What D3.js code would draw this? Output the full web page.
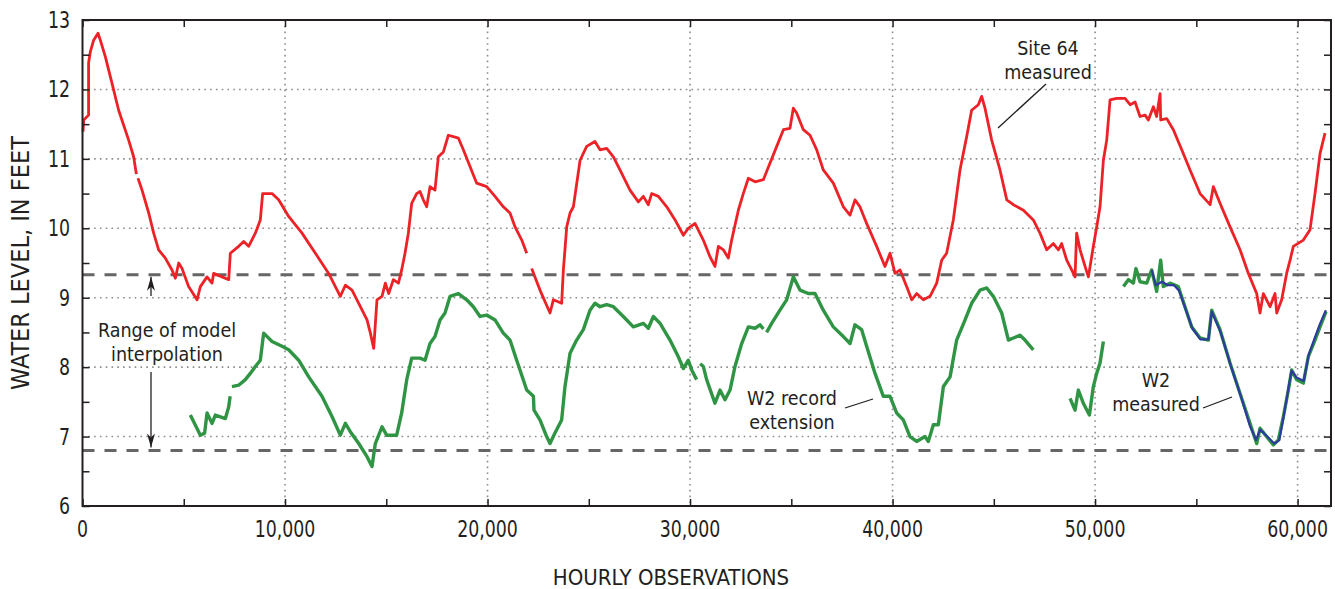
<!DOCTYPE html>
<html>
<head>
<meta charset="utf-8">
<script src="https://cdn.jsdelivr.net/npm/d3@7"></script>
<style>
  body { margin: 0; background: #fff; }
  text { font-family: "Liberation Sans Narrow", "Arial Narrow", "DejaVu Sans Condensed", sans-serif; fill: #231f20; }
</style>
</head>
<body>
<div id="chart"></div>
<script>
// Site 64 measured water level, [hourly observation, feet]; null = gap in record
var site64 = [
  [25, 11.39], [60, 11.56], [300, 11.63], [300, 12.38], [385, 12.54], [550, 12.71], [765, 12.81],
  [880, 12.71], [1130, 12.47], [1455, 12.09], [1785, 11.70], [2280, 11.27], [2525, 11.03], [2660, 10.78],
  null,
  [2740, 10.72], [2940, 10.55], [3270, 10.22], [3515, 9.93], [3760, 9.69], [4090, 9.57], [4420, 9.40],
  [4585, 9.28], [4750, 9.50], [4915, 9.42], [5240, 9.16], [5655, 8.97], [5820, 9.16], [6150, 9.30],
  [6395, 9.21], [6475, 9.35], [6890, 9.30], [7220, 9.26], [7300, 9.64], [7710, 9.74], [7960, 9.81],
  [8205, 9.74], [8535, 9.93], [8780, 10.12], [8895, 10.50], [9360, 10.50], [9685, 10.41], [10180, 10.17],
  [10840, 9.93], [11500, 9.64], [12155, 9.35], [12730, 9.02], [12980, 9.18], [13310, 9.11], [13640, 8.92],
  [14050, 8.68], [14215, 8.49], [14380, 8.27], [14540, 8.97], [14790, 9.02], [14955, 9.21], [15120, 9.06],
  [15350, 9.26], [15600, 9.21], [15760, 9.40], [15925, 9.64], [16090, 9.93], [16255, 10.36], [16500, 10.50],
  [16665, 10.53], [16830, 10.41], [16995, 10.31], [17160, 10.60], [17405, 10.55], [17570, 11.03],
  [17820, 11.10], [18065, 11.34], [18310, 11.32], [18560, 11.30], [18805, 11.13], [19135, 10.89],
  [19465, 10.65], [19960, 10.60], [20370, 10.46], [20780, 10.31], [21110, 10.22], [21360, 10.02],
  [21690, 9.83], [21935, 9.64],
  null,
  [22180, 9.42], [22590, 9.11], [23085, 8.78], [23250, 8.97], [23660, 8.92], [23745, 9.40], [23910, 10.02],
  [24075, 10.22], [24240, 10.31], [24570, 10.98], [24895, 11.18], [25305, 11.25], [25555, 11.13],
  [25885, 11.15], [26215, 11.03], [26540, 10.84], [27035, 10.55], [27450, 10.38], [27695, 10.46],
  [27940, 10.34], [28105, 10.50], [28435, 10.46], [28850, 10.31], [29260, 10.12], [29670, 9.90],
  [29915, 10.00], [30245, 10.07], [30655, 9.83], [30985, 9.59], [31230, 9.45], [31400, 9.74],
  [31645, 9.69], [31890, 9.57], [32055, 9.83], [32385, 10.26], [32630, 10.50], [32880, 10.72],
  [33210, 10.67], [33620, 10.70], [33950, 10.94], [34280, 11.18], [34610, 11.42], [34935, 11.44],
  [35100, 11.73], [35265, 11.66], [35595, 11.42], [35925, 11.34], [36255, 11.13], [36580, 10.84],
  [37075, 10.65], [37570, 10.31], [37900, 10.19], [38145, 10.41], [38390, 10.31], [38720, 10.07],
  [39215, 9.74], [39625, 9.45], [39875, 9.64], [40120, 9.35], [40370, 9.40], [40695, 9.16],
  [40945, 8.97], [41190, 9.06], [41520, 8.97], [41850, 9.02], [42180, 9.21], [42425, 9.54],
  [42670, 9.64], [43000, 10.12], [43330, 10.84], [43660, 11.32], [43905, 11.70], [44235, 11.78],
  [44400, 11.90], [44565, 11.73], [44895, 11.27], [45305, 10.84], [45640, 10.41], [45965, 10.34],
  [46460, 10.26], [46950, 10.12], [47280, 9.93], [47610, 9.69], [47940, 9.78], [48190, 9.69],
  [48350, 9.78], [48600, 9.54], [48845, 9.40], [49010, 9.30], [49090, 9.93], [49260, 9.69],
  [49505, 9.45], [49670, 9.30], [49915, 9.74], [50080, 10.02], [50245, 10.31], [50410, 10.98],
  [50575, 11.27], [50740, 11.85], [51070, 11.87], [51480, 11.87], [51730, 11.78], [51975, 11.82],
  [52220, 11.61], [52470, 11.63], [52630, 11.56], [52880, 11.75], [53040, 11.61], [53210, 11.94],
  [53240, 11.56], [53540, 11.58], [53865, 11.42], [54280, 11.13], [54690, 10.84], [55185, 10.50],
  [55680, 10.34], [55840, 10.60], [56170, 10.36], [56665, 10.02], [57160, 9.69], [57570, 9.35],
  [57980, 9.06], [58145, 8.78], [58310, 9.06], [58640, 8.87], [58885, 9.06], [58970, 8.78],
  [59215, 8.97], [59460, 9.35], [59630, 9.54], [59790, 9.74], [60285, 9.83], [60615, 9.98],
  [60860, 10.50], [61110, 11.08], [61355, 11.37]
];

// W2 record extension (green)
var w2Extension = [
  [5325, 7.31], [5820, 7.02], [6030, 7.05], [6150, 7.34], [6395, 7.19], [6560, 7.31], [7055, 7.26],
  [7220, 7.43], [7290, 7.58],
  null,
  [7380, 7.72], [7710, 7.74], [8040, 7.82], [8285, 7.91], [8535, 8.01], [8780, 8.10], [8945, 8.49],
  [9360, 8.37], [9850, 8.30], [10180, 8.25], [10675, 8.10], [11170, 7.86], [11825, 7.58], [12320, 7.29],
  [12730, 7.02], [12980, 7.19], [13225, 7.07], [13640, 6.90], [14050, 6.71], [14295, 6.57], [14460, 6.90],
  [14790, 7.14], [15020, 7.02], [15515, 7.02], [15760, 7.34], [16010, 7.82], [16255, 8.13], [16665, 8.13],
  [16915, 8.10], [17160, 8.34], [17405, 8.44], [17655, 8.68], [17900, 8.78], [18150, 9.02], [18560, 9.06],
  [18970, 8.97], [19300, 8.87], [19630, 8.73], [19960, 8.75], [20370, 8.68], [20780, 8.49], [21110, 8.39],
  [21440, 8.10], [21935, 7.67], [22265, 7.58], [22295, 7.38], [22590, 7.24], [22920, 7.00], [23085, 6.90],
  [23330, 7.05], [23660, 7.24], [23825, 7.72], [24075, 8.20], [24400, 8.39], [24730, 8.54], [25060, 8.82],
  [25305, 8.92], [25555, 8.87], [25885, 8.90], [26215, 8.87], [26705, 8.73], [27200, 8.58], [27695, 8.63],
  [27940, 8.56], [28190, 8.73], [28520, 8.63], [29010, 8.39], [29420, 8.15], [29670, 7.98], [29915, 8.10],
  [30080, 7.96], [30325, 7.82],
  null,
  [30500, 8.05], [30655, 8.01], [30820, 7.82], [31230, 7.48], [31480, 7.67], [31725, 7.53], [31975, 7.67],
  [32220, 8.01], [32550, 8.34], [32880, 8.58], [33210, 8.56], [33455, 8.61], [33620, 8.55],
  null,
  [33780, 8.50], [34030, 8.63], [34440, 8.82], [34770, 8.97], [35100, 9.30], [35430, 9.11], [35840, 9.06],
  [36170, 9.06], [36580, 8.82], [37075, 8.58], [37570, 8.44], [37900, 8.34], [38145, 8.61], [38475, 8.54],
  [38720, 8.30], [39135, 7.91], [39545, 7.58], [39875, 7.58], [40200, 7.34], [40530, 7.24], [40860, 7.00],
  [41190, 6.93], [41600, 7.00], [41765, 6.93], [42015, 7.17], [42260, 7.17], [42510, 7.72], [42840, 7.86],
  [43165, 8.39], [43580, 8.68], [43905, 8.92], [44320, 9.11], [44650, 9.14], [44975, 9.02], [45390, 8.78],
  [45720, 8.39], [45965, 8.42], [46295, 8.46], [46540, 8.39], [46950, 8.25],
  null,
  [48765, 7.55], [49010, 7.38], [49175, 7.67], [49420, 7.48], [49720, 7.31], [49915, 7.72], [50080, 7.91],
  [50245, 8.06], [50410, 8.37],
  null,
  [51400, 9.16], [51645, 9.26], [51890, 9.21], [52020, 9.42], [52220, 9.23], [52550, 9.21], [52795, 9.40],
  [53040, 9.09], [53240, 9.54], [53370, 9.16], [53700, 9.21], [54110, 9.16], [54440, 8.87], [54770, 8.58],
  [55185, 8.42], [55595, 8.39], [55760, 8.82], [56170, 8.54], [56665, 8.06], [57160, 7.62], [57650, 7.19],
  [57980, 6.90], [58145, 7.12], [58475, 7.00], [58805, 6.88], [59050, 6.95], [59300, 7.29], [59545, 7.67],
  [59710, 7.96], [59955, 7.82], [60285, 7.77], [60530, 8.15], [60860, 8.39], [61110, 8.58], [61405, 8.80]
];

// W2 measured (blue)
var w2Measured = [
  [52800, 9.40], [53000, 9.18], [53300, 9.23], [53600, 9.18], [53900, 9.18], [54150, 9.10], [54450, 8.85],
  [54800, 8.56], [55200, 8.40], [55600, 8.40], [55760, 8.80], [56200, 8.50], [56700, 8.02], [57200, 7.58],
  [57650, 7.15], [57950, 6.95], [58150, 7.10], [58500, 7.00], [58850, 6.90], [59100, 6.95], [59300, 7.27],
  [59550, 7.70], [59700, 7.95], [59950, 7.85], [60300, 7.80], [60550, 8.18], [60850, 8.42], [61100, 8.62],
  [61400, 8.82]
];

var xTicks = [0, 10000, 20000, 30000, 40000, 50000, 60000];
var yTicks = [6, 7, 8, 9, 10, 11, 12, 13];
var rangeTop = 9.33, rangeBottom = 6.8;

var W = 1335, H = 589;
var plotLeft = 82.5, plotRight = 1331, plotTop = 20, plotBottom = 506;

var svg = d3.select("#chart").append("svg")
  .attr("width", W).attr("height", H);

var x = d3.scaleLinear().domain([0, 61650]).range([plotLeft, plotRight]);
var y = d3.scaleLinear().domain([6, 13]).range([plotBottom, plotTop]);

// dotted grid
var grid = svg.append("g").attr("stroke", "#8c8c8c").attr("stroke-width", 1.6)
  .attr("stroke-dasharray", "1.6,4.2");
grid.selectAll(".gx").data(xTicks.filter(function (d) { return d > 0; }))
  .enter().append("line")
  .attr("x1", function (d) { return x(d); }).attr("x2", function (d) { return x(d); })
  .attr("y1", plotTop).attr("y2", plotBottom);
grid.selectAll(".gy").data(yTicks.filter(function (d) { return d > 6 && d < 13; }))
  .enter().append("line")
  .attr("y1", function (d) { return y(d); }).attr("y2", function (d) { return y(d); })
  .attr("x1", plotLeft).attr("x2", plotRight);

// range of model interpolation, dashed
svg.append("g").selectAll("line").data([rangeTop, rangeBottom]).enter().append("line")
  .attr("x1", plotLeft).attr("x2", plotRight)
  .attr("y1", function (d) { return y(d); }).attr("y2", function (d) { return y(d); })
  .attr("stroke", "#666").attr("stroke-width", 3).attr("stroke-dasharray", "12,10");

// lines
var line = d3.line()
  .defined(function (d) { return d !== null; })
  .x(function (d) { return x(d[0]); })
  .y(function (d) { return y(d[1]); });

svg.append("path").datum(site64)
  .attr("fill", "none").attr("stroke", "#ec2227").attr("stroke-width", 2.8)
  .attr("stroke-linejoin", "round").attr("d", line);
svg.append("path").datum(w2Extension)
  .attr("fill", "none").attr("stroke", "#2f9443").attr("stroke-width", 3.4)
  .attr("stroke-linejoin", "round").attr("d", line);
svg.append("path").datum(w2Measured)
  .attr("fill", "none").attr("stroke", "#2d3a9e").attr("stroke-width", 2.2)
  .attr("stroke-linejoin", "round").attr("d", line);

// axes: frame with inward ticks
var xMinor = d3.range(0, 61651, 5000);
var yMinor = d3.range(6, 13.01, 0.5);

svg.append("g").attr("transform", "translate(0," + plotBottom + ")")
  .call(d3.axisBottom(x).tickValues(xMinor).tickSizeInner(-7).tickSizeOuter(0).tickFormat(""))
  .call(function (g) { g.select(".domain").remove(); });
svg.append("g").attr("transform", "translate(0," + plotTop + ")")
  .call(d3.axisTop(x).tickValues(xMinor).tickSizeInner(-7).tickSizeOuter(0).tickFormat(""))
  .call(function (g) { g.select(".domain").remove(); });
svg.append("g").attr("transform", "translate(" + plotLeft + ",0)")
  .call(d3.axisLeft(y).tickValues(yMinor).tickSizeInner(-7).tickSizeOuter(0).tickFormat(""))
  .call(function (g) { g.select(".domain").remove(); });
svg.append("g").attr("transform", "translate(" + plotRight + ",0)")
  .call(d3.axisRight(y).tickValues(yMinor).tickSizeInner(-7).tickSizeOuter(0).tickFormat(""))
  .call(function (g) { g.select(".domain").remove(); });
svg.selectAll(".tick line").attr("stroke", "#231f20").attr("stroke-width", 1.5);

svg.append("rect").attr("x", plotLeft).attr("y", plotTop)
  .attr("width", plotRight - plotLeft).attr("height", plotBottom - plotTop)
  .attr("fill", "none").attr("stroke", "#231f20").attr("stroke-width", 2);

// tick labels (squeezed horizontally to mimic the condensed face)
svg.append("g").selectAll("text").data(xTicks).enter().append("text")
  .attr("transform", function (d) { return "translate(" + x(d) + ",537) scale(0.84,1)"; })
  .attr("text-anchor", "middle").attr("font-size", 23)
  .text(function (d) { return d === 0 ? "0" : d3.format(",")(d); });
svg.append("g").selectAll("text").data(yTicks).enter().append("text")
  .attr("transform", function (d) { return "translate(70," + (y(d) + 8) + ") scale(0.84,1)"; })
  .attr("text-anchor", "end").attr("font-size", 23)
  .text(function (d) { return d; });

// axis titles
svg.append("text").attr("x", 671).attr("y", 585)
  .attr("text-anchor", "middle").attr("font-size", 22)
  .text("HOURLY OBSERVATIONS");
svg.append("text").attr("transform", "translate(29,263) rotate(-90)")
  .attr("text-anchor", "middle").attr("font-size", 25)
  .text("WATER LEVEL, IN FEET");

// annotations
function label(lines, cx, cy, step) {
  var t = svg.append("text").attr("text-anchor", "middle").attr("font-size", 19.5);
  lines.forEach(function (s, i) {
    t.append("tspan").attr("x", cx).attr("y", cy + i * step).text(s);
  });
}
label(["Site 64", "measured"], 1048, 55, 24);
label(["Range of model", "interpolation"], 167, 337, 24);
label(["W2 record", "extension"], 792, 405, 24);
label(["W2", "measured"], 1156, 387, 24);

var leaders = [
  [1046, 84, 998, 128],
  [845, 408, 873, 399],
  [1203, 408, 1232, 397]
];
svg.append("g").selectAll("line").data(leaders).enter().append("line")
  .attr("x1", function (d) { return d[0]; }).attr("y1", function (d) { return d[1]; })
  .attr("x2", function (d) { return d[2]; }).attr("y2", function (d) { return d[3]; })
  .attr("stroke", "#231f20").attr("stroke-width", 1.3);

// range arrows
var defs = svg.append("defs");
defs.append("marker").attr("id", "arrow").attr("viewBox", "0 0 14 8")
  .attr("refX", 14).attr("refY", 4).attr("markerWidth", 14).attr("markerHeight", 8)
  .attr("markerUnits", "userSpaceOnUse").attr("orient", "auto")
  .append("path").attr("d", "M0,0 L14,4 L0,8 L4,4 Z").attr("fill", "#231f20");
svg.append("line").attr("x1", 151).attr("x2", 151).attr("y1", 296).attr("y2", y(rangeTop) + 2)
  .attr("stroke", "#231f20").attr("stroke-width", 1.3).attr("marker-end", "url(#arrow)");
svg.append("line").attr("x1", 151).attr("x2", 151).attr("y1", 372).attr("y2", y(rangeBottom) - 3)
  .attr("stroke", "#231f20").attr("stroke-width", 1.3).attr("marker-end", "url(#arrow)");
</script>
</body>
</html>
